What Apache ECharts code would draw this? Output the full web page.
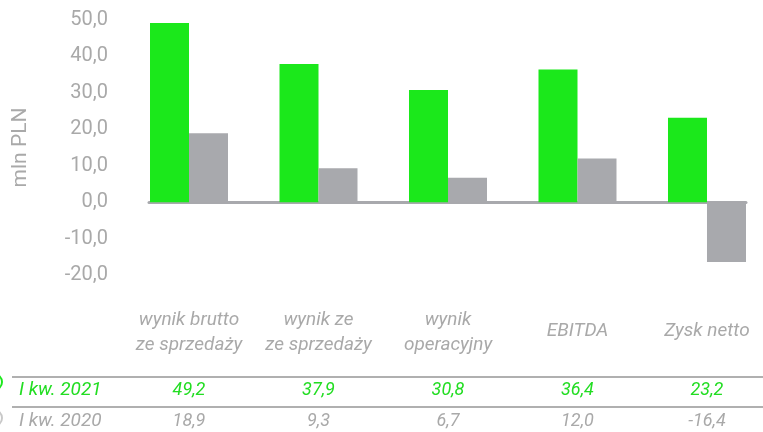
<!DOCTYPE html>
<html><head><meta charset="utf-8">
<script src="https://cdn.jsdelivr.net/npm/echarts@6/dist/echarts.min.js"></script>
<style>html,body{margin:0;padding:0;background:#fff}#c{width:763px;height:432px}</style>
</head><body><div id="c"></div>
<script>
const categories = [['wynik brutto','ze sprzedaży'],['wynik ze','ze sprzedaży'],['wynik','operacyjny'],['EBITDA'],['Zysk netto']];
const seriesNames = ['I kw. 2021','I kw. 2020'];
const values2021 = [49.2, 37.9, 30.8, 36.4, 23.2];
const values2020 = [18.9, 9.3, 6.7, 12.0, -16.4];
const yTicks = {min: -20, max: 50, interval: 10};
const axisName = 'mln PLN';

const GREEN = '#1be81b', GREEN_TXT = '#22dd22', GRAY = '#a8a9ad', TXT = '#a9a9a9';
const fmt = v => v.toFixed(1).replace('.', ',');
const idx = categories.map((_, i) => i);
const xMin = -0.3089, xMax = 4.3012;

function labelAxis(formatter, margin, rich) {
  return {
    type: 'value', min: xMin, max: xMax, position: 'bottom', gridIndex: 0,
    axisLine: {show: false, onZero: false}, axisTick: {show: false}, splitLine: {show: false},
    axisLabel: {customValues: idx, formatter: formatter, margin: margin, rich: rich,
      fontFamily: 'Roboto', fontStyle: 'italic', showMinLabel: true, showMaxLabel: true}
  };
}

const chart = echarts.init(document.getElementById('c'), null, {renderer: 'canvas'});
chart.setOption({
  animation: false,
  grid: {left: 149, right: 17, top: 20, bottom: 157, containLabel: false},
  yAxis: {
    type: 'value', min: yTicks.min, max: yTicks.max, interval: yTicks.interval,
    axisLine: {show: false}, axisTick: {show: false}, splitLine: {show: false},
    axisLabel: {formatter: v => fmt(v), color: TXT, fontSize: 20, fontFamily: 'Roboto', margin: 41},
    name: axisName, nameLocation: 'middle', nameRotate: 90, nameGap: 118,
    nameTextStyle: {color: TXT, fontSize: 21, fontFamily: 'Roboto'}
  },
  xAxis: [
    {
      type: 'value', min: xMin, max: xMax,
      axisLine: {show: true, onZero: true, lineStyle: {color: GRAY, width: 3}},
      axisTick: {show: false}, splitLine: {show: false}, axisLabel: {show: false}
    },
    labelAxis(v => {
      const c = categories[Math.round(v)];
      return c.length === 1 ? '{one|' + c[0] + '}' : c.map(s => '{two|' + s + '}').join('\n');
    }, 33, {
      one: {color: TXT, fontSize: 19, fontFamily: 'Roboto', fontStyle: 'italic', lineHeight: 46},
      two: {color: TXT, fontSize: 19, fontFamily: 'Roboto', fontStyle: 'italic', lineHeight: 25}
    }),
    labelAxis(v => '{g|' + fmt(values2021[Math.round(v)]) + '}', 105, {
      g: {color: GREEN_TXT, fontSize: 18, fontFamily: 'Roboto', fontStyle: 'italic', lineHeight: 20}
    }),
    labelAxis(v => '{s|' + fmt(values2020[Math.round(v)]) + '}', 136, {
      s: {color: TXT, fontSize: 18, fontFamily: 'Roboto', fontStyle: 'italic', lineHeight: 20}
    })
  ],
  series: [
    {name: seriesNames[0], type: 'bar', xAxisIndex: 0, barWidth: 39, barGap: '0%',
     itemStyle: {color: GREEN}, data: values2021.map((v, i) => [i, v])},
    {name: seriesNames[1], type: 'bar', xAxisIndex: 0, barWidth: 39, barGap: '0%',
     itemStyle: {color: GRAY}, data: values2020.map((v, i) => [i, v])}
  ],
  graphic: [
    {type: 'line', shape: {x1: 12, y1: 377, x2: 763, y2: 377}, style: {stroke: '#b0b0b0', lineWidth: 2}},
    {type: 'line', shape: {x1: 12, y1: 407, x2: 763, y2: 407}, style: {stroke: '#b0b0b0', lineWidth: 2}},
    {type: 'circle', shape: {cx: -6, cy: 382, r: 8}, style: {fill: 'none', stroke: GREEN, lineWidth: 2}},
    {type: 'circle', shape: {cx: -6, cy: 418, r: 8}, style: {fill: 'none', stroke: '#c8c8c8', lineWidth: 2}},
    {type: 'text', left: 19, top: 381, style: {text: seriesNames[0], fill: GREEN_TXT, font: 'italic 19px Roboto'}},
    {type: 'text', left: 19, top: 412, style: {text: seriesNames[1], fill: TXT, font: 'italic 19px Roboto'}}
  ]
});
</script></body></html>
